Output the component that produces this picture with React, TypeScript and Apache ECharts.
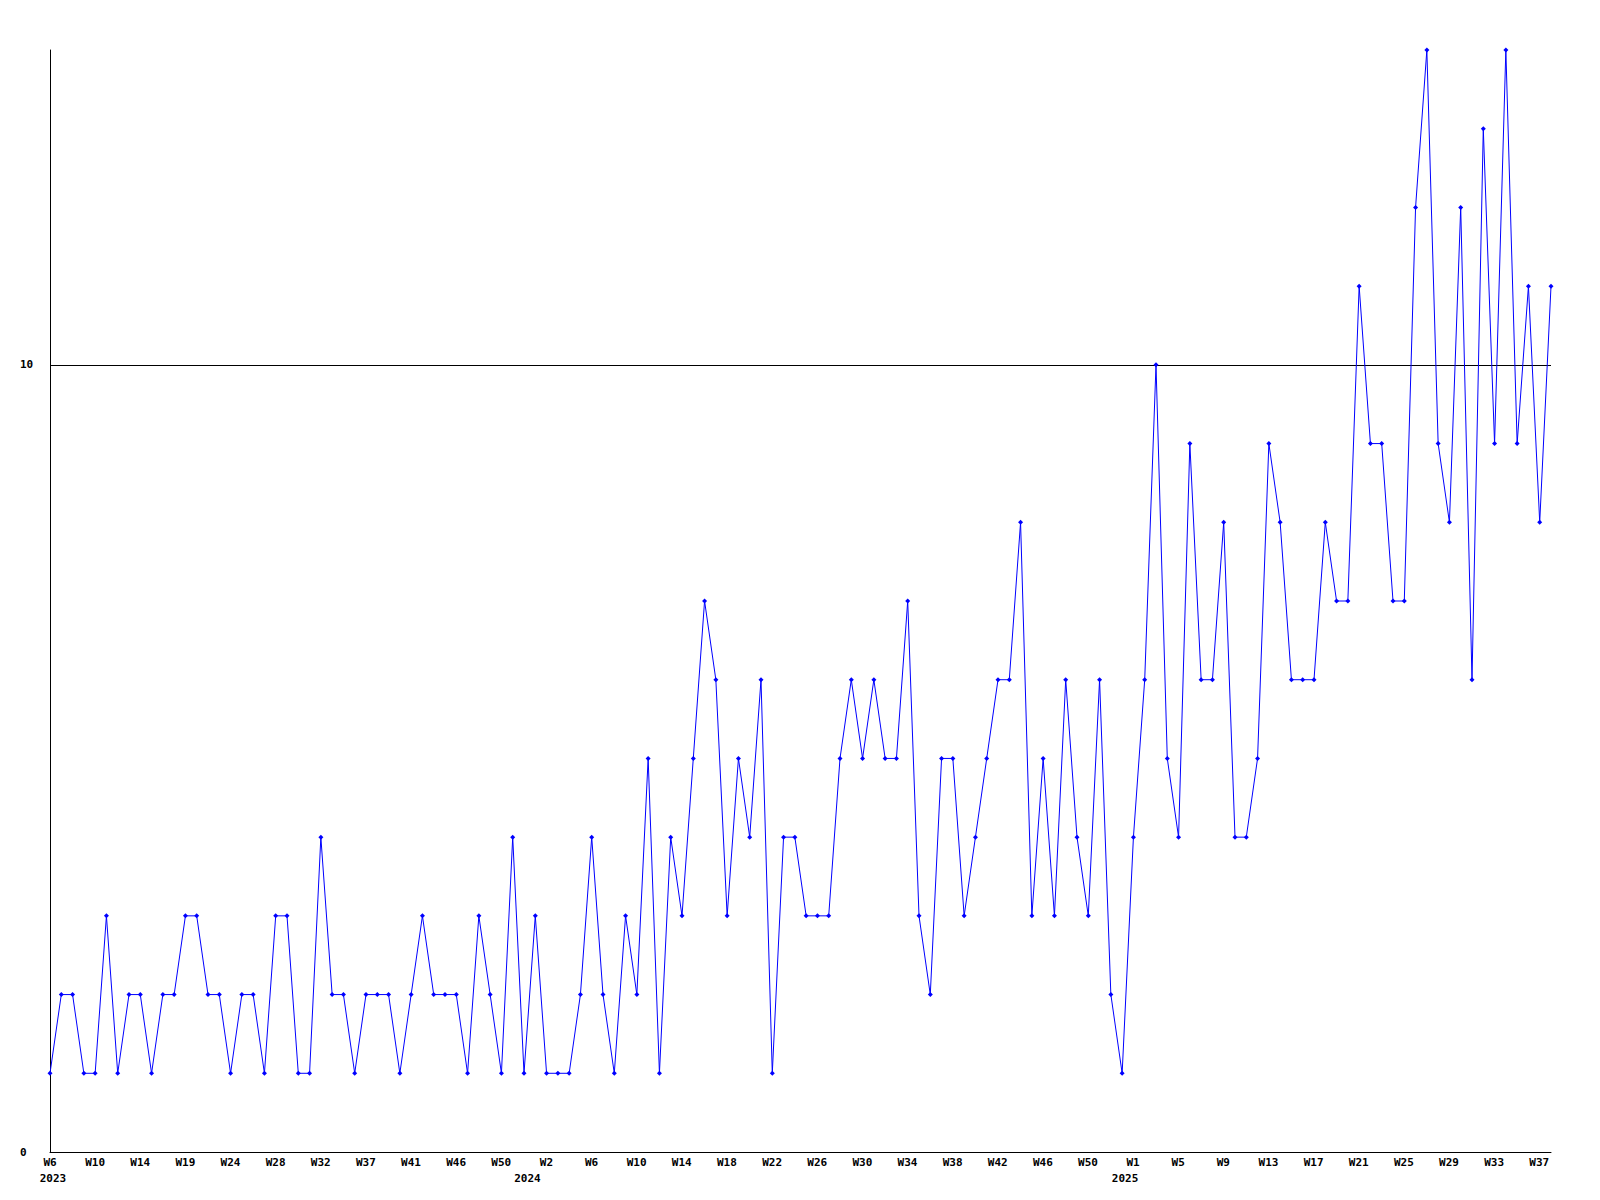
import React, { useEffect, useRef } from "react";
import * as echarts from "echarts";

// Weekly values, from W6 2023 onwards
const values: number[] = [
  1, 2, 2, 1, 1, 3, 1, 2, 2, 1, 2, 2, 3, 3, 2, 2, 1, 2, 2, 1, 3, 3, 1,
  1, 4, 2, 2, 1, 2, 2, 2, 1, 2, 3, 2, 2, 2, 1, 3, 2, 1, 4, 1, 3, 1,
  1, 1, 2, 4, 2, 1, 3, 2, 5, 1, 4, 3, 5, 7, 6, 3, 5, 4, 6, 1, 4, 4,
  3, 3, 3, 5, 6, 5, 6, 5, 5, 7, 3, 2, 5, 5, 3, 4, 5, 6, 6, 8, 3, 5,
  3, 6, 4, 3, 6, 2, 1, 4, 6, 10, 5, 4, 9, 6, 6, 8, 4, 4, 5, 9, 8, 6,
  6, 6, 8, 7, 7, 11, 9, 9, 7, 7, 12, 14,
  9, 8, 12, 6, 13, 9, 14, 9, 11, 8, 11,
];

// X tick labels (evenly spaced along the axis)
const tickLabels: string[] = [
  "W6", "W10", "W14", "W19", "W24", "W28", "W32", "W37", "W41", "W46", "W50",
  "W2", "W6", "W10", "W14", "W18", "W22", "W26", "W30", "W34", "W38", "W42", "W46", "W50",
  "W1", "W5", "W9", "W13", "W17", "W21", "W25", "W29", "W33", "W37",
];
const yearTickIndex: number[] = [0, 11, 24];
const yearLabels: string[] = ["2023", "2024", "2025"];

const yLabels: number[] = [0, 10];
const Y_MAX = 14;
const LABEL_AXIS_MAX = 33.26;

const FONT = "DejaVu Sans Mono";

export default function App() {
  const ref = useRef<HTMLDivElement>(null);
  useEffect(() => {
    if (!ref.current) return;
    const chart = echarts.init(ref.current, undefined, { renderer: "svg" });
    const data = values.map((v, i) => [i, v]);
    const baseText = {
      color: "#000",
      fontFamily: FONT,
      fontSize: 11,
      fontWeight: "bold",
      lineHeight: 16,
    };
    chart.setOption({
      animation: false,
      backgroundColor: "#ffffff",
      textStyle: { fontFamily: FONT },
      grid: { left: 50, right: 49, top: 50, bottom: 48, containLabel: false },
      xAxis: [
        {
          type: "value",
          min: 0,
          max: values.length - 1,
          axisLine: { show: true, onZero: false, lineStyle: { color: "#000", width: 1 } },
          axisTick: { show: false },
          axisLabel: { show: false },
          splitLine: { show: false },
        },
        {
          type: "value",
          position: "bottom",
          offset: 0,
          min: 0,
          max: LABEL_AXIS_MAX,
          interval: 1,
          axisLine: { show: false, onZero: false },
          axisTick: { show: false },
          splitLine: { show: false },
          axisLabel: {
            show: true,
            margin: 2,
            ...baseText,
            align: "center",
            verticalAlign: "top",
            hideOverlap: false,
            showMinLabel: true,
            showMaxLabel: true,
            rich: {
              y0: { ...baseText, padding: [0, 0, 0, 6] },
              y1: { ...baseText, padding: [0, 38, 0, 0] },
              y2: { ...baseText, padding: [0, 16, 0, 0] },
            },
            formatter: (v: number) => {
              const k = Math.round(v);
              if (Math.abs(v - k) > 1e-6 || k < 0 || k >= tickLabels.length) return "";
              const yi = yearTickIndex.indexOf(k);
              return yi >= 0
                ? tickLabels[k] + "\n{y" + yi + "|" + yearLabels[yi] + "}"
                : tickLabels[k];
            },
          },
        },
      ],
      yAxis: {
        type: "value",
        min: 0,
        max: Y_MAX,
        interval: 10,
        axisLine: { show: true, onZero: false, lineStyle: { color: "#000", width: 1 } },
        axisTick: { show: false },
        splitLine: { show: false },
        axisLabel: {
          margin: 30,
          align: "left",
          color: "#000",
          fontFamily: FONT,
          fontSize: 11,
          fontWeight: "bold",
          formatter: (v: number) => (yLabels.indexOf(v) >= 0 ? String(v) : ""),
        },
      },
      series: [
        {
          type: "line",
          xAxisIndex: 0,
          data,
          symbol: "diamond",
          symbolSize: 5,
          showSymbol: true,
          lineStyle: { color: "#0000ff", width: 1 },
          itemStyle: { color: "#0000ff" },
          markLine: {
            silent: true,
            symbol: ["none", "none"],
            label: { show: false },
            lineStyle: { color: "#000", width: 1, type: "solid" },
            data: [{ yAxis: 10 }],
            z: 1,
          },
        },
      ],
    });
    return () => chart.dispose();
  }, []);
  return (
    <div
      ref={ref}
      style={{ position: "absolute", left: 0, top: 0, width: 1600, height: 1200 }}
    />
  );
}
